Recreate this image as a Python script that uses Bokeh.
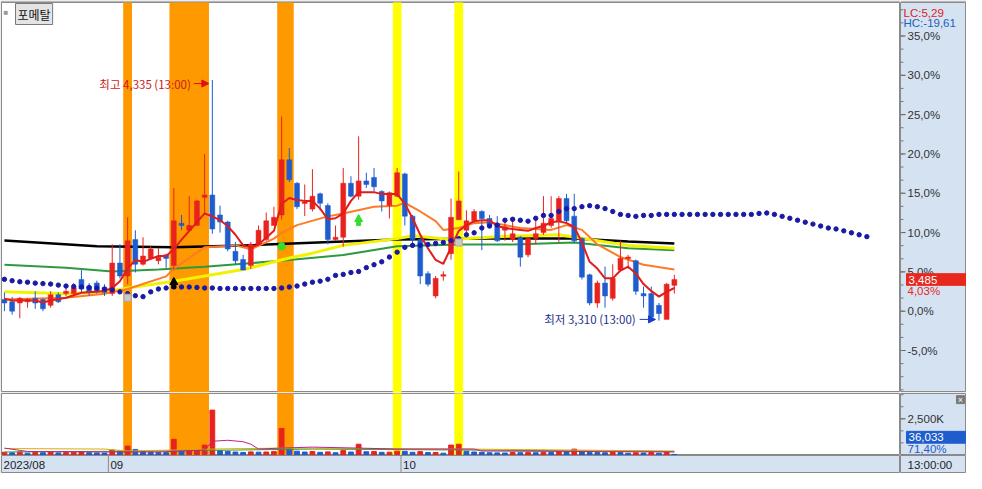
from bokeh.plotting import figure
from bokeh.models import Range1d, Label, Arrow, NormalHead, Span, ColumnDataSource
from bokeh.layouts import column, row
from bokeh.embed import file_html
from bokeh.resources import INLINE
from bokeh.core.properties import value

# ---------------- data ----------------
BASE_PRICE = 3350          # price that is 0,0% on the right axis
STOCK_NAME = "포메탈"
month_labels = ["2023/08", "09", "10"]
month_starts = [-0.38, 13.5, 51.5]
time_label = "13:00:00"
lc_text = "LC:5,29"
hc_text = "HC:-19,61"
last_volume_ratio = "71,40%"
price_ticks = [-5, 0, 5, 10, 15, 20, 25, 30, 35]
volume_ticks = [2500000]
volume_tick_labels = ["2,500K"]

opens = [3400, 3390, 3385, 3390, 3405, 3400, 3375, 3420, 3425, 3425,
         3485, 3455, 3470, 3450, 3425, 3555, 3500, 3655, 3550, 3575,
         3565, 3590, 3545, 3725, 3695, 3715, 3835, 3845, 3760, 3730,
         3605, 3570, 3545, 3635, 3655, 3715, 3760, 3995, 3895, 3810,
         3785, 3850, 3800, 3655, 3665, 3895, 3840, 3905, 3920, 3860,
         3800, 3840, 3935, 3755, 3655, 3510, 3415, 3500, 3595, 3740,
         3695, 3735, 3775, 3745, 3720, 3695, 3655, 3665, 3590, 3660,
         3685, 3715, 3735, 3830, 3755, 3660, 3505, 3385, 3470, 3405,
         3525, 3575, 3565, 3425, 3425, 3375, 3315, 3460]
highs = [3430, 3410, 3410, 3405, 3435, 3405, 3435, 3430, 3455, 3470,
         3525, 3470, 3480, 3465, 3635, 3635, 3750, 3695, 3665, 3630,
         3620, 3595, 3875, 3760, 3840, 3825, 4020, 4335, 3800, 3735,
         3645, 3590, 3645, 3715, 3770, 3795, 4180, 4045, 3900, 3890,
         3955, 3855, 3810, 3715, 3960, 3925, 4095, 3940, 3960, 3865,
         3860, 3960, 3940, 3760, 3665, 3520, 3500, 3520, 3830, 3945,
         3780, 3785, 3780, 3760, 3755, 3735, 3750, 3670, 3665, 3745,
         3840, 3840, 3840, 3850, 3850, 3665, 3510, 3480, 3540, 3550,
         3650, 3590, 3570, 3455, 3455, 3385, 3470, 3505]
lows = [3350, 3335, 3320, 3365, 3360, 3350, 3365, 3385, 3415, 3415,
        3430, 3415, 3425, 3415, 3415, 3490, 3465, 3515, 3545, 3570,
        3550, 3535, 3525, 3695, 3690, 3715, 3765, 3680, 3685, 3605,
        3550, 3525, 3530, 3630, 3650, 3715, 3740, 3900, 3785, 3755,
        3775, 3780, 3635, 3650, 3625, 3835, 3825, 3875, 3860, 3775,
        3745, 3835, 3715, 3620, 3465, 3455, 3405, 3480, 3570, 3740,
        3685, 3725, 3610, 3705, 3645, 3650, 3645, 3540, 3580, 3635,
        3675, 3705, 3645, 3725, 3640, 3485, 3375, 3365, 3365, 3395,
        3520, 3530, 3420, 3365, 3320, 3310, 3315, 3425]
closes = [3385, 3350, 3405, 3400, 3385, 3360, 3420, 3390, 3435, 3450,
          3445, 3430, 3435, 3430, 3555, 3500, 3650, 3550, 3585, 3615,
          3580, 3575, 3735, 3715, 3715, 3820, 3845, 3700, 3730, 3615,
          3565, 3525, 3635, 3695, 3735, 3750, 3995, 3910, 3795, 3815,
          3840, 3810, 3655, 3665, 3895, 3840, 3905, 3890, 3880, 3820,
          3855, 3940, 3755, 3655, 3500, 3465, 3490, 3505, 3750, 3820,
          3735, 3775, 3745, 3715, 3650, 3710, 3680, 3580, 3660, 3680,
          3725, 3745, 3830, 3735, 3650, 3495, 3385, 3470, 3415, 3490,
          3575, 3580, 3435, 3415, 3325, 3340, 3465, 3485]
volumes = [180000, 150000, 200000, 120000, 170000, 150000, 210000, 140000, 160000, 190000,
           230000, 150000, 140000, 130000, 340000, 280000, 610000, 380000, 220000, 200000,
           180000, 160000, 1080000, 270000, 330000, 340000, 680000, 3100000, 300000, 250000,
           200000, 170000, 210000, 190000, 200000, 230000, 1830000, 420000, 260000, 200000,
           240000, 180000, 210000, 150000, 300000, 200000, 740000, 220000, 230000, 180000,
           190000, 260000, 250000, 180000, 230000, 160000, 170000, 120000, 680000, 740000,
           260000, 200000, 180000, 150000, 140000, 130000, 170000, 150000, 160000, 150000,
           180000, 170000, 220000, 200000, 400000, 230000, 180000, 160000, 150000, 170000,
           160000, 120000, 150000, 130000, 160000, 120000, 180000, 36033]

# moving-average style lines, in % of BASE_PRICE (read at their vertices)
red_idx = [0, 1, 4, 5, 6, 8, 10, 12, 13] + list(range(14, 88))
red_pct = [1.60, 1.35, 1.35, 1.11, 1.35, 1.72, 2.34, 2.46, 2.58,
           2.95, 3.82, 5.42, 6.52, 6.28, 6.65, 7.02, 7.02, 7.88, 9.11,
           10.22, 11.32, 12.43, 12.06, 11.57, 10.83, 9.72, 8.37, 8.12, 8.49,
           9.35, 10.22, 13.66, 14.40, 14.15, 14.03, 14.03, 13.05, 11.69, 11.82,
           12.43, 14.03, 15.14, 15.14, 15.14, 14.89, 14.89, 14.89, 13.66, 11.82,
           9.72, 8.00, 6.52, 6.03, 8.12, 10.22, 10.95, 11.45, 11.57, 11.57,
           10.83, 10.58, 10.46, 10.34, 10.22, 10.58, 10.83, 11.32, 11.45, 11.20,
           10.71, 8.74, 6.28, 5.42, 4.18, 4.18, 5.17, 5.66, 4.80, 3.45,
           2.58, 1.85, 2.46, 2.95]
orange_idx = [0, 8, 13, 16, 21, 22, 26, 30, 32, 35, 36, 38, 42, 44, 48, 51, 52,
              54, 56, 57, 59, 61, 63, 67, 71, 73, 75, 77, 80, 83, 87]
orange_pct = [1.48, 1.72, 2.22, 2.83, 4.43, 5.42, 8.12, 8.37, 7.88, 9.23, 9.97,
              10.95, 12.06, 12.43, 13.29, 13.42, 13.78, 12.68, 11.45, 10.34, 10.58,
              11.20, 11.32, 10.58, 10.34, 10.95, 10.34, 8.49, 6.89, 5.91, 5.29]
yellow_idx = [0, 8, 13, 16, 22, 31, 37, 40, 44, 51, 53, 58, 64, 72, 76, 81, 87]
yellow_pct = [2.46, 2.22, 2.46, 2.95, 3.82, 5.29, 6.77, 7.38, 8.37, 9.23, 9.60,
              9.11, 9.48, 9.72, 9.11, 8.37, 8.00]
green_idx = [0, 8, 14, 20, 26, 31, 37, 44, 51, 59, 66, 74, 81, 87]
green_pct = [5.91, 5.54, 5.05, 5.29, 5.66, 6.03, 6.52, 7.14, 8.25, 8.49, 8.49,
             8.74, 8.00, 7.75]
black_idx = [0, 12, 22, 31, 44, 51, 63, 74, 81, 87]
black_pct = [8.98, 8.25, 8.12, 8.37, 8.86, 9.11, 9.23, 9.23, 8.86, 8.62]
# dotted leading line (one dot per bar, runs 25 bars past the last candle)
lead_pct = [4.06, 3.88, 3.75, 3.69, 3.57, 3.51, 3.45, 3.32, 3.20, 3.14,
            3.08, 3.02, 2.95, 2.83, 2.71, 2.46, 2.22, 1.97, 1.85, 2.46,
            2.83, 2.95, 3.08, 3.08, 3.08, 3.02, 2.95, 2.95, 2.89, 2.89,
            2.89, 2.89, 2.89, 2.89, 2.89, 2.89, 2.95, 3.08, 3.20, 3.45,
            3.69, 3.82, 4.06, 4.55, 4.68, 4.92, 5.05, 5.54, 5.91, 6.28,
            6.89, 7.51, 8.12, 8.37, 8.37, 8.49, 8.62, 8.74, 8.98, 9.23,
            9.72, 9.97, 10.58, 10.83, 10.95, 11.57, 11.69, 11.57, 11.45, 11.82,
            12.18, 12.18, 12.68, 13.05, 13.05, 13.29, 13.42, 13.29, 13.05, 12.68,
            12.31, 12.18, 12.06, 12.18, 12.18, 12.31, 12.31, 12.31, 12.31, 12.31,
            12.31, 12.31, 12.31, 12.31, 12.31, 12.31, 12.31, 12.31, 12.43, 12.49,
            12.31, 12.06, 11.82, 11.57, 11.32, 11.08, 10.83, 10.58, 10.46, 10.22,
            9.97, 9.72, 9.48]
# highlighted bars
orange_band_idx = [16, 22, 23, 24, 25, 26, 36, 37]
yellow_band_idx = [51, 59]
# signal markers
gray_sig_idx = [16, 59]
gray_sig_pct = [1.72, 8.74]
black_sig_idx = [22]
black_sig_pct = [3.45]
green_dot_idx = [36]
green_dot_pct = [8.25]
green_up_idx = [46]
green_up_pct = [11.45]
# volume averages
vma1_idx = [0, 3, 13, 20, 26, 27, 29, 31, 32, 33, 36, 40, 46, 51, 59, 61, 62, 87]
vma1 = [473000, 237000, 203000, 203000, 338000, 946000, 1014000, 913000, 744000,
        406000, 473000, 541000, 473000, 406000, 406000, 406000, 270000, 203000]
vma2_idx = [0, 13, 16, 22, 27, 36, 46, 60, 87]
vma2 = [440000, 406000, 270000, 338000, 406000, 473000, 440000, 406000, 270000]
vma3_idx = [0, 20, 30, 40, 60, 87]
vma3 = [203000, 270000, 338000, 406000, 338000, 237000]

# ---------------- styling ----------------
UP = "#e8231e"
DOWN = "#1f5ccc"
PANEL_BG = "#d5e2f2"
LINE_GRAY = "#8a8a8a"
LAT = "Liberation Sans"
KR = "Noto Sans CJK KR"
FS = "11.5px"
LEFT_W, RIGHT_W = 900, 66
H1, H2, H3 = 392, 63, 18


def pct(p):
    return (p / BASE_PRICE - 1.0) * 100.0


def fmt_pct(v, digits):
    return f"{v:.{digits}f}%".replace(".", ",")


n = len(closes)
idx = list(range(n))
xr = Range1d(-0.38, 116.37)
yr = Range1d(-10.34, 39.26)
vr = Range1d(-40000, 4250000)


def left_fig(h, y_range, top, bg="white"):
    f = figure(width=LEFT_W, height=h, x_range=xr, y_range=y_range, output_backend="svg",
               toolbar_location=None, x_axis_location=None, y_axis_location=None,
               min_border_left=1, min_border_right=0, min_border_top=top, min_border_bottom=0,
               background_fill_color=bg, border_fill_color="#b8b8b8",
               outline_line_color=LINE_GRAY, outline_line_width=1)
    f.grid.visible = False
    return f


def right_fig(h, y_range, top):
    f = figure(width=RIGHT_W, height=h, x_range=Range1d(0, RIGHT_W), y_range=y_range,
               output_backend="svg", toolbar_location=None,
               x_axis_location=None, y_axis_location=None,
               min_border_left=0, min_border_right=0, min_border_top=top, min_border_bottom=0,
               background_fill_color=PANEL_BG, border_fill_color="#b8b8b8",
               outline_line_color=LINE_GRAY, outline_line_width=1)
    f.grid.visible = False
    return f


def scale_ticks(f, majors, labels, minors):
    f.segment(x0=0, x1=5, y0=majors, y1=majors, line_color="#555555", line_width=1)
    f.segment(x0=0, x1=3, y0=minors, y1=minors, line_color="#777777", line_width=1)
    f.text(x=[7] * len(majors), y=majors, text=labels, text_font=value(LAT),
           text_font_size=FS, text_color="#333333", text_baseline="middle", text_align="left")


# ---------------- price panel ----------------
p1 = left_fig(H1, yr, 2)
p1.vbar(x=orange_band_idx, width=1.0, bottom=-20, top=50, color="#ff9900")
p1.vbar(x=yellow_band_idx, width=1.0, bottom=-20, top=50, color="#ffff00")

p1.line(black_idx, black_pct, color="#000000", line_width=2.5)
p1.line(green_idx, green_pct, color="#2e9a3e", line_width=2)
p1.line(yellow_idx, yellow_pct, color="#f2f200", line_width=3)
p1.line(orange_idx, orange_pct, color="#ff7a26", line_width=2)

cols = [UP if c >= o else DOWN for o, c in zip(opens, closes)]
tops, bots = [], []
for o, c in zip(opens, closes):
    t, b = pct(max(o, c)), pct(min(o, c))
    if t - b < 0.2:
        m = (t + b) / 2.0
        t, b = m + 0.1, m - 0.1
    tops.append(t)
    bots.append(b)
src = ColumnDataSource(dict(x=idx, hi=[pct(v) for v in highs], lo=[pct(v) for v in lows],
                            top=tops, bot=bots, color=cols))
p1.segment(x0="x", y0="lo", x1="x", y1="hi", line_color="color", line_width=1, source=src)
p1.vbar(x="x", width=0.64, top="top", bottom="bot", fill_color="color",
        line_color="color", line_width=0.5, source=src)

p1.line(red_idx, red_pct, color="#e21b1b", line_width=2)
p1.scatter(x=list(range(len(lead_pct))), y=lead_pct, size=4.4, marker="circle",
           fill_color="#1a1aa6", line_color="#1a1aa6")

p1.scatter(x=gray_sig_idx, y=gray_sig_pct, marker="square", size=7,
           fill_color="#c8c8c8", line_color="#aaaaaa")
# arrow-shaped signals: head + short stem
p1.scatter(x=black_sig_idx, y=[v + 0.25 for v in black_sig_pct], marker="triangle", size=8,
           fill_color="#000000", line_color="#000000")
p1.scatter(x=black_sig_idx, y=[v - 0.3 for v in black_sig_pct], marker="square", size=4,
           fill_color="#000000", line_color="#000000")
p1.scatter(x=green_dot_idx, y=green_dot_pct, marker="hex", size=8,
           fill_color="#33dd33", line_color="#33dd33")
p1.scatter(x=green_up_idx, y=[v + 0.25 for v in green_up_pct], marker="triangle", size=8,
           fill_color="#33dd33", line_color="#33dd33")
p1.scatter(x=green_up_idx, y=[v - 0.3 for v in green_up_pct], marker="square", size=4,
           fill_color="#33dd33", line_color="#33dd33")

i_hi = max(idx, key=lambda i: highs[i])
i_lo = min(idx, key=lambda i: lows[i])
hp, lp = pct(highs[i_hi]), pct(lows[i_lo])
p1.add_layout(Arrow(end=NormalHead(size=7, fill_color="#e01010", line_color="#e01010"),
                    x_start=i_hi - 2.4, y_start=hp - 0.45, x_end=i_hi - 0.45, y_end=hp - 0.45,
                    line_color="#e01010", line_width=1))
p1.add_layout(Label(x=i_hi - 2.4, y=hp - 0.45, x_offset=-3, text=f"최고 {highs[i_hi]:,} (13:00)",
                    text_align="right", text_baseline="middle", text_font=KR,
                    text_font_size=FS, text_color="#cc1a1a"))
p1.add_layout(Arrow(end=NormalHead(size=7, fill_color="#1a3cc8", line_color="#1a3cc8"),
                    x_start=i_lo - 2.5, y_start=lp + 0.15, x_end=i_lo - 0.45, y_end=lp + 0.15,
                    line_color="#1a3cc8", line_width=1))
p1.add_layout(Label(x=i_lo - 2.5, y=lp + 0.15, x_offset=-4, text=f"최저 {lows[i_lo]:,} (13:00)",
                    text_align="right", text_baseline="middle", text_font=KR,
                    text_font_size=FS, text_color="#1e2f8c"))

p1.add_layout(Label(x=xr.start, y=yr.end, x_offset=2, y_offset=-5, text="■",
                    text_baseline="top", text_font=LAT, text_font_size="8px",
                    text_color="#9a9a9a"))
p1.add_layout(Label(x=xr.start, y=yr.end, x_offset=14, y_offset=-1, text=STOCK_NAME,
                    text_baseline="top", text_font=KR, text_font_size="12px",
                    text_color="#111111", background_fill_color="#e4e4e4",
                    border_line_color="#7a7a7a", padding=2))

# right scale of the price panel
r1 = right_fig(H1, yr, 2)
scale_ticks(r1, price_ticks, [fmt_pct(t, 1) for t in price_ticks],
            [-10 + k * 5.0 / 3.0 for k in range(31)])
last_pct = pct(closes[-1])
r1.text(x=[3, 3], y=[37.95, 36.6], text=[lc_text, hc_text], text_font=value(LAT),
        text_font_size=FS, text_color=["#e02020", "#2060c0"], text_baseline="middle")
r1.quad(left=6, right=65, bottom=last_pct - 0.74, top=last_pct + 0.74,
        fill_color="#e8281c", line_color="#e8281c")
r1.text(x=[8], y=[last_pct], text=[f"{closes[-1]:,}"], text_font=value(LAT),
        text_font_size=FS, text_color="white", text_baseline="middle")
r1.text(x=[7], y=[last_pct - 1.45], text=[fmt_pct(last_pct, 2)], text_font=value(LAT),
        text_font_size=FS, text_color="#e8281c", text_baseline="middle")

# ---------------- volume panel ----------------
p2 = left_fig(H2, vr, 1)
p2.vbar(x=orange_band_idx, width=1.0, bottom=-1e6, top=1e7, color="#ff9900")
p2.vbar(x=yellow_band_idx, width=1.0, bottom=-1e6, top=1e7, color="#ffff00")
vcols = [UP if (i == 0 or volumes[i] >= volumes[i - 1]) else DOWN for i in idx]
p2.vbar(x=idx, width=0.62, bottom=0, top=volumes, fill_color=vcols, line_color=vcols)
p2.line(vma3_idx, vma3, color="#2e9a3e", line_width=1)
p2.line(vma2_idx, vma2, color="#d4b000", line_width=1)
p2.line(vma1_idx, vma1, color="#c02090", line_width=1)

r2 = right_fig(H2, vr, 1)
scale_ticks(r2, volume_ticks, volume_tick_labels, [k * 2500000 / 3.0 for k in range(6)])
r2.quad(left=56, right=64, bottom=3550000, top=4100000, fill_color="#7a7a7a",
        line_color="#7a7a7a")
r2.text(x=[60], y=[3825000], text=["×"], text_font=value(LAT), text_font_size="9px",
        text_color="white", text_baseline="middle", text_align="center")
r2.quad(left=6, right=65, bottom=1220000 - 410000, top=1220000 + 410000,
        fill_color="#1f5ccc", line_color="#1f5ccc")
r2.text(x=[8], y=[1220000], text=[f"{volumes[-1]:,}"], text_font=value(LAT),
        text_font_size=FS, text_color="white", text_baseline="middle")
r2.text(x=[7], y=[400000], text=[last_volume_ratio], text_font=value(LAT),
        text_font_size=FS, text_color="#1f5ccc", text_baseline="middle")

# ---------------- date band ----------------
p3 = left_fig(H3, Range1d(0, 1), 0, bg=PANEL_BG)
for loc, txt in zip(month_starts, month_labels):
    if loc > xr.start:
        p3.add_layout(Span(location=loc, dimension="height", line_color=LINE_GRAY, line_width=1))
    p3.add_layout(Label(x=loc, y=0.5, x_offset=2, text=txt, text_baseline="middle",
                        text_font=LAT, text_font_size=FS, text_color="#222222"))
r3 = right_fig(H3, Range1d(0, 1), 0)
r3.text(x=[7], y=[0.5], text=[time_label], text_font=value(LAT), text_font_size=FS,
        text_color="#222222", text_baseline="middle")

layout = row(column(p1, p2, p3, spacing=0), column(r1, r2, r3, spacing=0), spacing=0)
open("out.html", "w").write(file_html(layout, INLINE))
